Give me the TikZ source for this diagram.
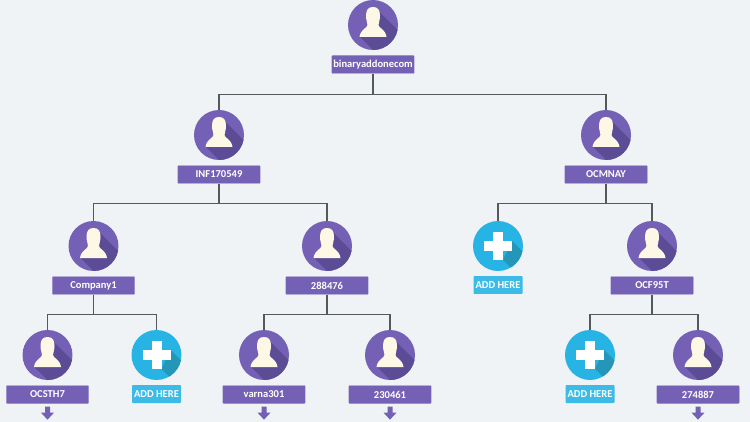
\documentclass[tikz,border=0pt]{standalone}
\usepackage{fontspec}
\setmainfont{Carlito}
\definecolor{pagebg}{HTML}{EFF3F5}
\definecolor{userpurple}{HTML}{7461B6}
\definecolor{usershade}{HTML}{5B4C95}
\definecolor{addblue}{HTML}{27B4E4}
\definecolor{addshade}{HTML}{2496B8}
\definecolor{personcream}{HTML}{FDF8E6}
\definecolor{linkgrey}{HTML}{545A5C}
\tikzset{
	usercirc/.style={circle,fill=userpurple,minimum size=1cm,inner sep=0pt},
	addcirc/.style={circle,fill=addblue,minimum size=1cm,inner sep=0pt},
	userlabel/.style={fill=userpurple,draw=userpurple!70,line width=0.2pt,rounded corners=0.5pt,minimum width=1.65cm,minimum height=0.36cm,inner sep=0pt,text=white,font=\fontsize{6}{7}\selectfont\bfseries},
	addlabel/.style={fill=addblue!90,rounded corners=0.5pt,minimum width=0.98cm,minimum height=0.36cm,inner sep=0pt,text=white,font=\fontsize{6}{7}\selectfont\bfseries},
	link/.style={draw=linkgrey,line width=0.85pt}
}
\def\usernode(#1)(#2,#3)#4{
	\begin{scope}[shift={(#2,#3)}]
		\node[usercirc] (#1) at (0,0) {};
		\begin{scope}
			\clip (0,0) circle (25);
			\fill[usershade] (6.5,-13) -- (46.5,27) -- (27,52) -- (-13,12) -- cycle;
		\end{scope}
		\fill[personcream] (0,-18) .. controls (5,-18) and (7,-15) .. (7,-9) .. controls (7,-5) and (5.5,-2) .. (5.5,0) .. controls (5.5,3) and (12.5,4) .. (13.5,12) -- (-13.5,12) .. controls (-12.5,4) and (-5.5,3) .. (-5.5,0) .. controls (-5.5,-2) and (-7,-5) .. (-7,-9) .. controls (-7,-15) and (-5,-18) .. (0,-18) -- cycle;
		\node[userlabel] (#1lbl) at (0,39.5) {#4};
	\end{scope}
}
\def\addnode(#1)(#2,#3){
	\begin{scope}[shift={(#2,#3)}]
		\node[addcirc] (#1) at (0,0) {};
		\begin{scope}
			\clip (0,0) circle (25);
			\fill[addshade] (14,-5) -- (54,35) -- (45,54) -- (5,14) -- cycle;
		\end{scope}
		\fill[white] (-5,-14) rectangle (5,14);
		\fill[white] (-14,-5) rectangle (14,5);
		\node[addlabel] (#1lbl) at (0,39) {ADD HERE};
	\end{scope}
}
\def\downmark(#1){
	\fill[userpurple] ([shift={(-2.5,3)}]#1.south) -- ++(5,0) -- ++(0,6) -- ++(4,0) -- ++(-6.5,7) -- ++(-6.5,-7) -- ++(4,0) -- cycle;
}
\begin{document}
\begin{tikzpicture}[x=0.02cm,y=-0.02cm]
	\fill[pagebg] (0,0) rectangle (750,422);
	\useasboundingbox (0,0) rectangle (750,422);

	\usernode(root)(373,25){binaryaddonecom}

	\usernode(inf)(219,135){INF170549}
	\usernode(ocmnay)(606,135){OCMNAY}

	\usernode(company)(93.5,246){Company1}
	\usernode(num)(327,246){288476}
	\addnode(addone)(498,246)
	\usernode(ocf)(652,246){OCF95T}

	\usernode(ocsth)(47.5,355){OCSTH7}
	\addnode(addtwo)(156.5,355)
	\usernode(varna)(264,355){varna301}
	\usernode(numtwo)(390,355){230461}
	\addnode(addthree)(590,355)
	\usernode(numthree)(698,355){274887}

	\draw[link] (rootlbl.south) -- ++(0,21) -| (inf.north);
	\draw[link] (rootlbl.south) -- ++(0,21) -| (ocmnay.north);
	\draw[link] (inflbl.south) -- ++(0,20) -| (company.north);
	\draw[link] (inflbl.south) -- ++(0,20) -| (num.north);
	\draw[link] (ocmnaylbl.south) -- ++(0,20) -| (addone.north);
	\draw[link] (ocmnaylbl.south) -- ++(0,20) -| (ocf.north);
	\draw[link] (companylbl.south) -- ++(0,20) -| (ocsth.north);
	\draw[link] (companylbl.south) -- ++(0,20) -| (addtwo.north);
	\draw[link] (numlbl.south) -- ++(0,20) -| (varna.north);
	\draw[link] (numlbl.south) -- ++(0,20) -| (numtwo.north);
	\draw[link] (ocflbl.south) -- ++(0,20) -| (addthree.north);
	\draw[link] (ocflbl.south) -- ++(0,20) -| (numthree.north);

	\downmark(ocsthlbl)
	\downmark(varnalbl)
	\downmark(numtwolbl)
	\downmark(numthreelbl)
\end{tikzpicture}
\end{document}
